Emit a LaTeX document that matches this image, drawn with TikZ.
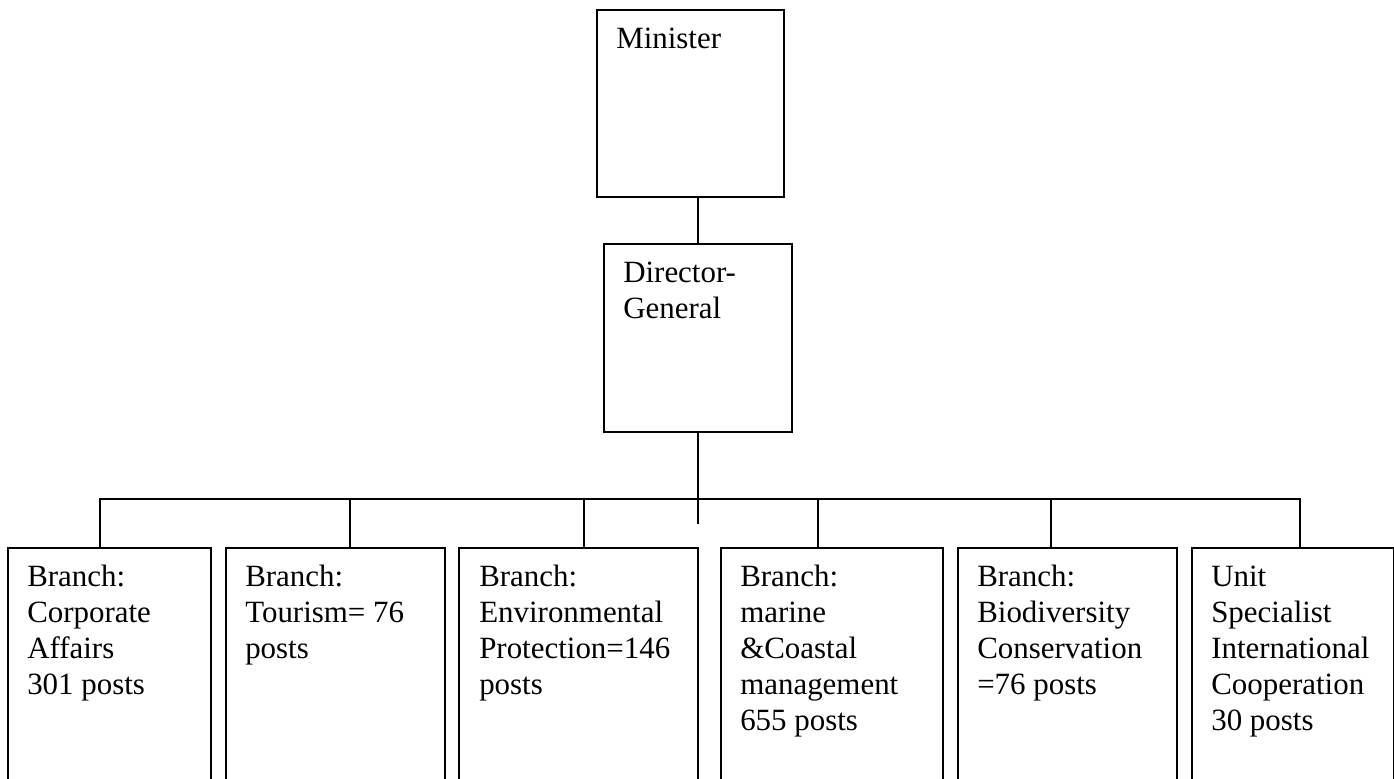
\documentclass[tikz,border=0pt]{standalone}
\usepackage{fontspec}
\setmainfont{Liberation Serif}
\begin{document}
\begin{tikzpicture}[x=0.75pt,y=-0.75pt,
  box/.style={draw=black,line width=1.2pt,rectangle,inner sep=0pt,anchor=north west},
  txt/.style={anchor=north west,inner sep=0pt,align=left,font=\fontsize{23.2}{27}\selectfont},
  conn/.style={draw=black,line width=1.2pt}]
\useasboundingbox (0,0) rectangle (1394,778);
\clip (0,0) rectangle (1394,778);
% top boxes
\node[box,minimum width=187*0.75pt,minimum height=187*0.75pt] (min) at (596,9) {};
\node[txt] (minT) at (616,22.8) {\strut Minister};
\node[box,minimum width=188*0.75pt,minimum height=188*0.75pt] (dg) at (603,243) {};
\node[txt] (dgT) at (623,256.8) {\strut Director-\\\strut General};
% branch boxes
\node[box,minimum width=203*0.75pt,minimum height=260*0.75pt] (c1) at (7,547) {};
\node[box,minimum width=219*0.75pt,minimum height=260*0.75pt] (c2) at (225,547) {};
\node[box,minimum width=239*0.75pt,minimum height=260*0.75pt] (c3) at (458,547) {};
\node[box,minimum width=222*0.75pt,minimum height=260*0.75pt] (c4) at (720,547) {};
\node[box,minimum width=219*0.75pt,minimum height=260*0.75pt] (c5) at (957,547) {};
\node[box,minimum width=202*0.75pt,minimum height=260*0.75pt] (c6) at (1191,547) {};
\node[txt] (t1) at (27,560.8) {\strut Branch:\\\strut Corporate\\\strut Affairs\\\strut 301 posts};
\node[txt] (t2) at (245,560.8) {\strut Branch:\\\strut Tourism= 76\\\strut posts};
\node[txt] (t3) at (479,560.8) {\strut Branch:\\\strut Environmental\\\strut Protection=146\\\strut posts};
\node[txt] (t4) at (740,560.8) {\strut Branch:\\\strut marine\\\strut \&Coastal\\\strut management\\\strut 655 posts};
\node[txt] (t5) at (977,560.8) {\strut Branch:\\\strut Biodiversity\\\strut Conservation\\\strut =76 posts};
\node[txt] (t6) at (1211,560.8) {\strut Unit\\\strut Specialist\\\strut International\\\strut Cooperation\\\strut 30 posts};
% connector points
\coordinate (stub) at (697,524);
\coordinate (d1) at (100,499);
\coordinate (d2) at (350,499);
\coordinate (d3) at (584,499);
\coordinate (d4) at (818,499);
\coordinate (d5) at (1051,499);
\coordinate (d6) at (1300,499);
% connectors
\draw[conn] (dg.north) -- (dg.north |- min.south);
\draw[conn] (dg.south) -- (dg.south |- stub);
\draw[conn] (d1 |- c1.north) -- (d1) -- (d6) -- (d6 |- c6.north);
\draw[conn] (d2) -- (d2 |- c2.north);
\draw[conn] (d3) -- (d3 |- c3.north);
\draw[conn] (d4) -- (d4 |- c4.north);
\draw[conn] (d5) -- (d5 |- c5.north);
\end{tikzpicture}
\end{document}
